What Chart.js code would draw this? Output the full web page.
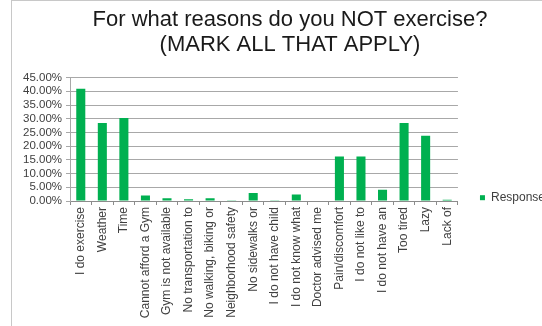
<!DOCTYPE html>
<html>
<head>
<meta charset="utf-8">
<script src="https://cdn.jsdelivr.net/npm/chart.js@4.4.1/dist/chart.umd.min.js"></script>
<style>
  html, body { margin: 0; padding: 0; background: #fff; overflow: hidden; }
  #frame {
    position: absolute; left: 11px; top: 0;
    width: 560px; height: 340px;
    border-left: 1px solid #c8c8c8; border-top: 1px solid #c8c8c8;
  }
  #myChart { position: absolute; left: 5px; top: 1px; display: block; }
</style>
</head>
<body>
<div id="frame"></div>
<canvas id="myChart" width="556" height="325"></canvas>
<script>
// categories and values (percent of respondents)
const reasons = [
    'I do exercise', 'Weather', 'Time', 'Cannot afford a Gym', 'Gym is not available',
    'No transportation to', 'No walking, biking or', 'Neighborhood safety', 'No sidewalks or',
    'I do not have child', 'I do not know what', 'Doctor advised me', 'Pain/discomfort',
    'I do not like to', 'I do not have an', 'Too tired', 'Lazy', 'Lack of'
];
const responses = [40.9, 28.4, 30.3, 2.0, 1.0, 0.6, 1.0, 0.3, 2.9, 0.3, 2.4, 0.2, 16.2, 16.2, 4.1, 28.4, 23.8, 0.5];
const yTicks = [0, 5, 10, 15, 20, 25, 30, 35, 40, 45];

const titleLines = ['For what reasons do you NOT exercise?', '(MARK ALL THAT APPLY)'];
const seriesName = 'Responses';

let ctx;

function initChart() {
    ctx = document.getElementById('myChart');
    if (!ctx) {
        console.error('Canvas element not found');
        return;
    }
    Chart.defaults.font.family = "'Liberation Sans', Arial, sans-serif";
    Chart.defaults.color = '#404040';
    Chart.defaults.animation = false;

    new Chart(ctx, {
        type: 'bar',
        data: {
            labels: reasons,
            datasets: [{
                label: seriesName,
                data: responses,
                backgroundColor: '#00b050',
                borderWidth: 0,
                categoryPercentage: 1,
                barPercentage: 0.42
            }]
        },
        options: {
            responsive: false,
            layout: { padding: { left: 14, right: 0, top: 0, bottom: 0 } },
            scales: {
                x: {
                    grid: {
                        offset: true,
                        drawOnChartArea: false,
                        color: '#8c8c8c',
                        tickLength: 4
                    },
                    border: { color: '#8c8c8c' },
                    ticks: {
                        autoSkip: false,
                        minRotation: 90,
                        maxRotation: 90,
                        padding: 2,
                        color: '#404040',
                        font: { size: 12 }
                    },
                    afterFit: (scale) => { scale.height = 125; }
                },
                y: {
                    min: 0,
                    max: 45,
                    afterBuildTicks: (scale) => {
                        scale.ticks = yTicks.map(v => ({ value: v }));
                    },
                    grid: {
                        color: '#a8a8a8',
                        tickLength: 4
                    },
                    border: { display: true, color: '#a8a8a8' },
                    ticks: {
                        autoSkip: false,
                        padding: 4,
                        color: '#404040',
                        font: { size: 11.5 },
                        callback: (v) => v.toFixed(2) + '%'
                    },
                    afterFit: (scale) => { scale.width = 51; }
                }
            },
            plugins: {
                legend: {
                    display: true,
                    position: 'right',
                    title: { display: true, text: ' ', padding: { top: 54, bottom: 0 } },
                    labels: {
                        boxWidth: 5,
                        boxHeight: 5,
                        padding: 22,
                        color: '#404040',
                        font: { size: 12 }
                    }
                },
                title: {
                    display: true,
                    text: titleLines,
                    color: '#1a1a1a',
                    font: { size: 22, weight: 'normal', lineHeight: 1.15 },
                    padding: { top: 6, bottom: 20 }
                },
                tooltip: { enabled: false }
            }
        }
    });
}

document.addEventListener('DOMContentLoaded', initChart);
</script>
</body>
</html>
